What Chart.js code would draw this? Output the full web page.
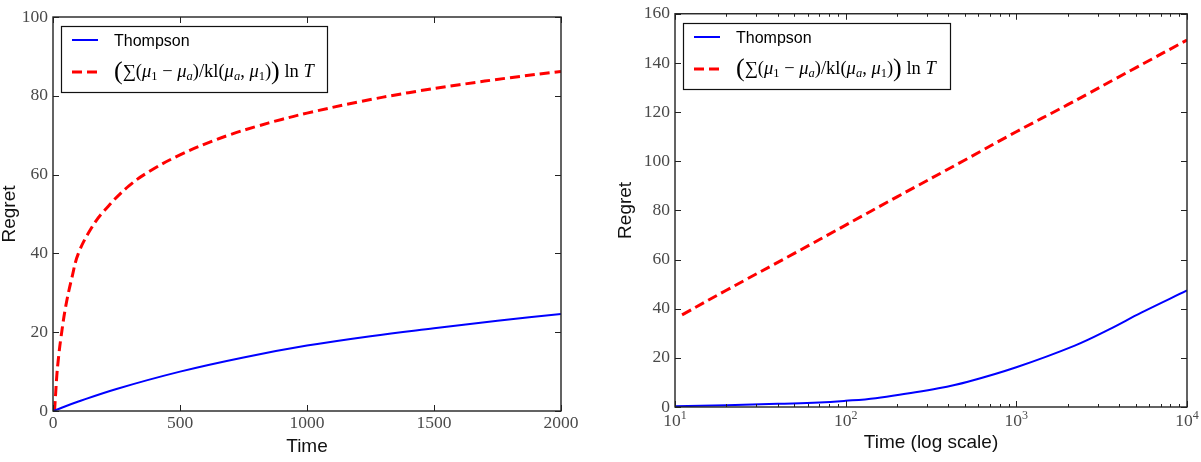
<!DOCTYPE html>
<html>
<head>
<title>Regret</title>
<script src="https://cdn.jsdelivr.net/npm/chart.js"></script>
<style>
body { margin: 0; background: #fff; width: 1201px; height: 462px; overflow: hidden; position: relative; }
.panel { position: absolute; top: 0; height: 462px; }
#left { left: 0; width: 600px; }
#right { left: 600px; width: 601px; }
</style>
</head>
<body>
<div class="panel" id="left"><canvas id="linChart"></canvas></div>
<div class="panel" id="right"><canvas id="logChart"></canvas></div>
<script>
// series names (legend)
var seriesNames = ['Thompson', '(\u2211(\u03bc\u2081 \u2212 \u03bc\u2090)/kl(\u03bc\u2090, \u03bc\u2081)) ln T'];

// left panel, linear time
var linThompsonT = [0, 100, 250, 500, 750, 1000, 1250, 1500, 1750, 2000];
var linThompson  = [0, 2.4, 5.6, 10.0, 13.6, 16.6, 19.0, 21.0, 22.9, 24.6];
var linBoundT = [6, 10, 15, 20, 30, 50, 75, 100, 150, 200, 300, 400, 500, 600, 700, 800, 900, 1000, 1200, 1400, 1600, 1800, 2000];
var linBound  = [0, 4, 9, 12.5, 18, 26.5, 34, 40, 46.3, 50.7, 57.2, 61.6, 65.0, 67.8, 70.2, 72.2, 74.0, 75.6, 78.4, 80.8, 82.8, 84.6, 86.2];
var linXTicks = [0, 500, 1000, 1500, 2000];

// right panel, log time
var logThompsonT = [10, 20, 40, 70, 100, 150, 230, 350, 520, 1000, 2200, 3500, 5400, 10000];
var logThompson  = [0.3, 0.7, 1.3, 1.8, 2.5, 3.6, 5.5, 7.6, 10.3, 16.2, 25.0, 31.6, 38.4, 47.4];
var logBoundT = [11, 20, 50, 100, 200, 500, 1000, 2000, 5000, 10000];
var logBound  = [37.5, 47.5, 62.5, 74, 85.5, 100.5, 112, 123, 138, 149.3];
var logXTicks = [10, 100, 1000, 10000];
var logXExp   = ['1', '2', '3', '4'];

// legend text for the bound, split for math rendering
var boundParts = [['(', 'big'], ['\u2211(', 'rm'], ['\u03bc', 'it'], ['1', 'sub'], [' \u2212 ', 'rm'],
    ['\u03bc', 'it'], ['a', 'subit'], [')/kl(', 'rm'], ['\u03bc', 'it'], ['a', 'subit'], [', ', 'rm'],
    ['\u03bc', 'it'], ['1', 'sub'], [')', 'rm'], [')', 'big'], [' ln ', 'rm'], ['T', 'it']];

var TICK_FONT = '"Liberation Serif", "DejaVu Serif", serif';
var SANS = '"Liberation Sans", Arial, sans-serif';

function pts(xs, ys) {
    var out = [];
    for (var i = 0; i < xs.length; i++) out.push({x: xs[i], y: ys[i]});
    return out;
}

function minorLog(ticks) {
    var m = [];
    for (var i = 0; i < ticks.length - 1; i++)
        for (var k = 2; k < 10; k++) m.push(ticks[i] * k);
    return m;
}

// inward ticks on all four sides plus the box
var frameTicks = {
    id: 'frameTicks',
    afterDraw: function(chart, args, opts) {
        var ctx = chart.ctx, a = chart.chartArea;
        var xs = chart.scales.x, ys = chart.scales.y;
        ctx.save();
        ctx.strokeStyle = '#222';
        ctx.lineWidth = 1;
        ctx.beginPath();
        function vt(v, len) {
            var p = Math.round(xs.getPixelForValue(v)) + 0.5;
            ctx.moveTo(p, a.bottom); ctx.lineTo(p, a.bottom - len);
            ctx.moveTo(p, a.top); ctx.lineTo(p, a.top + len);
        }
        function ht(v, len) {
            var p = Math.round(ys.getPixelForValue(v)) + 0.5;
            ctx.moveTo(a.left, p); ctx.lineTo(a.left + len, p);
            ctx.moveTo(a.right, p); ctx.lineTo(a.right - len, p);
        }
        xs.ticks.forEach(function(t) { vt(t.value, 6); });
        (opts.minorX || []).forEach(function(v) { vt(v, 3); });
        ys.ticks.forEach(function(t) { ht(t.value, 6); });
        ctx.stroke();
        ctx.lineWidth = 1.4;
        ctx.strokeRect(a.left, a.top, a.right - a.left, a.bottom - a.top);

        if (opts.powerExp) {
            ctx.fillStyle = '#4a4a4a';
            ctx.textBaseline = 'alphabetic';
            xs.ticks.forEach(function(t, i) {
                var p = xs.getPixelForValue(t.value);
                ctx.font = '17.5px ' + TICK_FONT;
                var w1 = ctx.measureText('10').width;
                ctx.font = '12px ' + TICK_FONT;
                var w2 = ctx.measureText(opts.powerExp[i]).width;
                var x = p - (w1 + w2) / 2;
                ctx.font = '17.5px ' + TICK_FONT;
                ctx.fillText('10', x, a.bottom + 19);
                ctx.font = '12px ' + TICK_FONT;
                ctx.fillText(opts.powerExp[i], x + w1, a.bottom + 12);
            });
        }
        ctx.restore();
    }
};

function drawParts(ctx, parts, x, y) {
    parts.forEach(function(p) {
        var size = 18.5, dy = 0, style = '';
        if (p[1] === 'big') { size = 26; dy = 2; }
        if (p[1] === 'it') style = 'italic ';
        if (p[1] === 'sub' || p[1] === 'subit') { size = 12.5; dy = 3; if (p[1] === 'subit') style = 'italic '; }
        ctx.font = style + size + 'px ' + TICK_FONT;
        ctx.fillText(p[0], x, y + dy);
        x += ctx.measureText(p[0]).width;
    });
}

var boxLegend = {
    id: 'boxLegend',
    afterDraw: function(chart, args, opts) {
        var ctx = chart.ctx, a = chart.chartArea;
        var x0 = Math.round(a.left) + 8, y0 = Math.round(a.top) + 9, w = opts.width, h = 66;
        ctx.save();
        ctx.fillStyle = '#fff';
        ctx.fillRect(x0, y0, w, h);
        ctx.strokeStyle = '#111';
        ctx.lineWidth = 1.2;
        ctx.strokeRect(x0 + 0.5, y0 + 0.5, w, h);
        chart.data.datasets.forEach(function(ds, i) {
            var cy = y0 + 14 + i * 32;
            ctx.beginPath();
            ctx.strokeStyle = ds.borderColor;
            ctx.lineWidth = ds.borderWidth;
            ctx.setLineDash(ds.borderDash || []);
            ctx.moveTo(x0 + 11, cy);
            ctx.lineTo(x0 + 37, cy);
            ctx.stroke();
            ctx.setLineDash([]);
            ctx.fillStyle = '#000';
            ctx.textBaseline = 'alphabetic';
            if (i === 1) {
                drawParts(ctx, boundParts, x0 + 53, cy + 5);
            } else {
                ctx.font = '16px ' + SANS;
                ctx.fillText(ds.label, x0 + 53, cy + 6);
            }
        });
        ctx.restore();
    }
};

function datasets(tT, tV, bT, bV) {
    return [{
        label: seriesNames[0],
        data: pts(tT, tV),
        borderColor: '#0000ff',
        borderWidth: 2,
        pointRadius: 0,
        tension: 0.4
    }, {
        label: seriesNames[1],
        data: pts(bT, bV),
        borderColor: '#ff0000',
        borderWidth: 3,
        borderDash: [10, 5],
        pointRadius: 0,
        tension: 0.4
    }];
}

function plainTick(v) { return String(v); }

function yScale(max, width, titlePad) {
    return {
        min: 0, max: max,
        grid: {display: false, drawTicks: false},
        border: {display: false},
        ticks: {stepSize: 20, padding: 5, color: '#4a4a4a', callback: plainTick, font: {family: TICK_FONT, size: 17.5, lineHeight: 1}},
        title: {display: true, text: 'Regret', color: '#111', padding: {top: titlePad, bottom: 0}, font: {family: SANS, size: 19, lineHeight: 1}},
        afterFit: function(s) { s.width = width; }
    };
}

Chart.defaults.animation = false;

new Chart(document.getElementById('linChart'), {
    type: 'line',
    data: {datasets: datasets(linThompsonT, linThompson, linBoundT, linBound)},
    options: {
        responsive: true,
        maintainAspectRatio: false,
        layout: {padding: {left: 0, top: 17, right: 39, bottom: 0}},
        plugins: {legend: {display: false}, tooltip: {enabled: false}, boxLegend: {width: 266}, frameTicks: {}},
        scales: {
            x: {
                type: 'linear', min: 0, max: 2000,
                grid: {display: false, drawTicks: false},
                border: {display: false},
                afterBuildTicks: function(s) { s.ticks = linXTicks.map(function(v) { return {value: v}; }); },
                ticks: {padding: 4, maxRotation: 0, color: '#4a4a4a', callback: plainTick, font: {family: TICK_FONT, size: 17.5, lineHeight: 1}},
                title: {display: true, text: 'Time', color: '#111', padding: {top: 0, bottom: 5.5}, font: {family: SANS, size: 19, lineHeight: 1}},
                afterFit: function(s) { s.height = 51; }
            },
            y: yScale(100, 53, 0)
        }
    },
    plugins: [frameTicks, boxLegend]
});

new Chart(document.getElementById('logChart'), {
    type: 'line',
    data: {datasets: datasets(logThompsonT, logThompson, logBoundT, logBound)},
    options: {
        responsive: true,
        maintainAspectRatio: false,
        layout: {padding: {left: 0, top: 10, right: 14, bottom: 0}},
        plugins: {legend: {display: false}, tooltip: {enabled: false}, boxLegend: {width: 267},
                  frameTicks: {minorX: minorLog(logXTicks), powerExp: logXExp}},
        scales: {
            x: {
                type: 'logarithmic', min: 10, max: 10000,
                grid: {display: false, drawTicks: false},
                border: {display: false},
                afterBuildTicks: function(s) { s.ticks = logXTicks.map(function(v) { return {value: v}; }); },
                ticks: {display: false},
                title: {display: true, text: 'Time (log scale)', color: '#111', padding: {top: 0, bottom: 9.5}, font: {family: SANS, size: 19, lineHeight: 1}},
                afterFit: function(s) { s.height = 55; }
            },
            y: yScale(160, 75, 16)
        }
    },
    plugins: [frameTicks, boxLegend]
});
</script>
</body>
</html>
